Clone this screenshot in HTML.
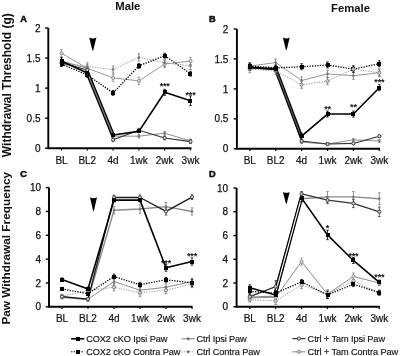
<!DOCTYPE html><html><head><meta charset="utf-8"><style>html,body{margin:0;padding:0;background:#fff;width:400px;height:356px;overflow:hidden;}svg{display:block;filter:blur(0.3px);}</style></head><body>
<svg width="400" height="356" viewBox="0 0 400 356" font-family='"Liberation Sans", sans-serif'>
<rect width="400" height="356" fill="#fff"/>
<text x="127.8" y="9.6" text-anchor="middle" font-size="11.3" font-weight="bold" fill="#111">Male</text>
<text x="350.5" y="12.3" text-anchor="middle" font-size="11.3" font-weight="bold" fill="#111">Female</text>
<text transform="translate(10.6 85.2) rotate(-90)" text-anchor="middle" font-size="12" font-weight="bold" fill="#111">Withdrawal Threshold (g)</text>
<text transform="translate(9.8 248.3) rotate(-90)" text-anchor="middle" font-size="11.8" font-weight="bold" fill="#111">Paw Withdrawal Frequency</text>
<path d="M48.3 28V148.2H191.5" fill="none" stroke="#000" stroke-width="1.9"/>
<path d="M45.1 148.2H48.3" stroke="#000" stroke-width="1.4"/>
<text x="40.5" y="151.8" text-anchor="end" font-size="10" fill="#111" stroke="#111" stroke-width="0.25">0</text>
<path d="M45.1 118.15H48.3" stroke="#000" stroke-width="1.4"/>
<text x="40.5" y="121.75" text-anchor="end" font-size="10" fill="#111" stroke="#111" stroke-width="0.25">0.5</text>
<path d="M45.1 88.1H48.3" stroke="#000" stroke-width="1.4"/>
<text x="40.5" y="91.7" text-anchor="end" font-size="10" fill="#111" stroke="#111" stroke-width="0.25">1</text>
<path d="M45.1 58.05H48.3" stroke="#000" stroke-width="1.4"/>
<text x="40.5" y="61.65" text-anchor="end" font-size="10" fill="#111" stroke="#111" stroke-width="0.25">1.5</text>
<path d="M45.1 28H48.3" stroke="#000" stroke-width="1.4"/>
<text x="40.5" y="31.6" text-anchor="end" font-size="10" fill="#111" stroke="#111" stroke-width="0.25">2</text>
<path d="M61.5 148.2v2.2" stroke="#000" stroke-width="1.2"/>
<text x="61.5" y="164.2" text-anchor="middle" font-size="10" fill="#111" stroke="#111" stroke-width="0.2">BL</text>
<path d="M87.3 148.2v2.2" stroke="#000" stroke-width="1.2"/>
<text x="87.3" y="164.2" text-anchor="middle" font-size="10" fill="#111" stroke="#111" stroke-width="0.2">BL2</text>
<path d="M113.1 148.2v2.2" stroke="#000" stroke-width="1.2"/>
<text x="113.1" y="164.2" text-anchor="middle" font-size="10" fill="#111" stroke="#111" stroke-width="0.2">4d</text>
<path d="M138.9 148.2v2.2" stroke="#000" stroke-width="1.2"/>
<text x="138.9" y="164.2" text-anchor="middle" font-size="10" fill="#111" stroke="#111" stroke-width="0.2">1wk</text>
<path d="M164.7 148.2v2.2" stroke="#000" stroke-width="1.2"/>
<text x="164.7" y="164.2" text-anchor="middle" font-size="10" fill="#111" stroke="#111" stroke-width="0.2">2wk</text>
<path d="M190.5 148.2v2.2" stroke="#000" stroke-width="1.2"/>
<text x="190.5" y="164.2" text-anchor="middle" font-size="10" fill="#111" stroke="#111" stroke-width="0.2">3wk</text>
<text x="20.2" y="21.5" font-size="9.2" font-weight="bold" fill="#111" stroke="#111" stroke-width="0.55">A</text>
<path d="M236.9 29V148.8H380" fill="none" stroke="#000" stroke-width="1.9"/>
<path d="M233.7 148.8H236.9" stroke="#000" stroke-width="1.4"/>
<text x="228.3" y="152.4" text-anchor="end" font-size="10" fill="#111" stroke="#111" stroke-width="0.25">0</text>
<path d="M233.7 118.85H236.9" stroke="#000" stroke-width="1.4"/>
<text x="228.3" y="122.45" text-anchor="end" font-size="10" fill="#111" stroke="#111" stroke-width="0.25">0.5</text>
<path d="M233.7 88.9H236.9" stroke="#000" stroke-width="1.4"/>
<text x="228.3" y="92.5" text-anchor="end" font-size="10" fill="#111" stroke="#111" stroke-width="0.25">1</text>
<path d="M233.7 58.95H236.9" stroke="#000" stroke-width="1.4"/>
<text x="228.3" y="62.55" text-anchor="end" font-size="10" fill="#111" stroke="#111" stroke-width="0.25">1.5</text>
<path d="M233.7 29H236.9" stroke="#000" stroke-width="1.4"/>
<text x="228.3" y="32.6" text-anchor="end" font-size="10" fill="#111" stroke="#111" stroke-width="0.25">2</text>
<path d="M249.8 148.8v2.2" stroke="#000" stroke-width="1.2"/>
<text x="249.8" y="164.4" text-anchor="middle" font-size="10" fill="#111" stroke="#111" stroke-width="0.2">BL</text>
<path d="M275.7 148.8v2.2" stroke="#000" stroke-width="1.2"/>
<text x="275.7" y="164.4" text-anchor="middle" font-size="10" fill="#111" stroke="#111" stroke-width="0.2">BL2</text>
<path d="M301.6 148.8v2.2" stroke="#000" stroke-width="1.2"/>
<text x="301.6" y="164.4" text-anchor="middle" font-size="10" fill="#111" stroke="#111" stroke-width="0.2">4d</text>
<path d="M327.5 148.8v2.2" stroke="#000" stroke-width="1.2"/>
<text x="327.5" y="164.4" text-anchor="middle" font-size="10" fill="#111" stroke="#111" stroke-width="0.2">1wk</text>
<path d="M353.4 148.8v2.2" stroke="#000" stroke-width="1.2"/>
<text x="353.4" y="164.4" text-anchor="middle" font-size="10" fill="#111" stroke="#111" stroke-width="0.2">2wk</text>
<path d="M379.3 148.8v2.2" stroke="#000" stroke-width="1.2"/>
<text x="379.3" y="164.4" text-anchor="middle" font-size="10" fill="#111" stroke="#111" stroke-width="0.2">3wk</text>
<text x="208.9" y="21.9" font-size="9.2" font-weight="bold" fill="#111" stroke="#111" stroke-width="0.55">B</text>
<path d="M49 187.6V306.8H192.5" fill="none" stroke="#000" stroke-width="1.9"/>
<path d="M45.8 306.8H49" stroke="#000" stroke-width="1.4"/>
<text x="41" y="310.4" text-anchor="end" font-size="10" fill="#111" stroke="#111" stroke-width="0.25">0</text>
<path d="M45.8 282.96H49" stroke="#000" stroke-width="1.4"/>
<text x="41" y="286.56" text-anchor="end" font-size="10" fill="#111" stroke="#111" stroke-width="0.25">2</text>
<path d="M45.8 259.12H49" stroke="#000" stroke-width="1.4"/>
<text x="41" y="262.72" text-anchor="end" font-size="10" fill="#111" stroke="#111" stroke-width="0.25">4</text>
<path d="M45.8 235.28H49" stroke="#000" stroke-width="1.4"/>
<text x="41" y="238.88" text-anchor="end" font-size="10" fill="#111" stroke="#111" stroke-width="0.25">6</text>
<path d="M45.8 211.44H49" stroke="#000" stroke-width="1.4"/>
<text x="41" y="215.04" text-anchor="end" font-size="10" fill="#111" stroke="#111" stroke-width="0.25">8</text>
<path d="M45.8 187.6H49" stroke="#000" stroke-width="1.4"/>
<text x="41" y="191.2" text-anchor="end" font-size="10" fill="#111" stroke="#111" stroke-width="0.25">10</text>
<path d="M62 306.8v2.2" stroke="#000" stroke-width="1.2"/>
<text x="62" y="321.8" text-anchor="middle" font-size="10" fill="#111" stroke="#111" stroke-width="0.2">BL</text>
<path d="M88 306.8v2.2" stroke="#000" stroke-width="1.2"/>
<text x="88" y="321.8" text-anchor="middle" font-size="10" fill="#111" stroke="#111" stroke-width="0.2">BL2</text>
<path d="M114 306.8v2.2" stroke="#000" stroke-width="1.2"/>
<text x="114" y="321.8" text-anchor="middle" font-size="10" fill="#111" stroke="#111" stroke-width="0.2">4d</text>
<path d="M140 306.8v2.2" stroke="#000" stroke-width="1.2"/>
<text x="140" y="321.8" text-anchor="middle" font-size="10" fill="#111" stroke="#111" stroke-width="0.2">1wk</text>
<path d="M166 306.8v2.2" stroke="#000" stroke-width="1.2"/>
<text x="166" y="321.8" text-anchor="middle" font-size="10" fill="#111" stroke="#111" stroke-width="0.2">2wk</text>
<path d="M192 306.8v2.2" stroke="#000" stroke-width="1.2"/>
<text x="192" y="321.8" text-anchor="middle" font-size="10" fill="#111" stroke="#111" stroke-width="0.2">3wk</text>
<text x="20.2" y="176.9" font-size="9.2" font-weight="bold" fill="#111" stroke="#111" stroke-width="0.55">C</text>
<path d="M236.6 188V306.8H380" fill="none" stroke="#000" stroke-width="1.9"/>
<path d="M233.4 306.8H236.6" stroke="#000" stroke-width="1.4"/>
<text x="228" y="310.4" text-anchor="end" font-size="10" fill="#111" stroke="#111" stroke-width="0.25">0</text>
<path d="M233.4 283.04H236.6" stroke="#000" stroke-width="1.4"/>
<text x="228" y="286.64" text-anchor="end" font-size="10" fill="#111" stroke="#111" stroke-width="0.25">2</text>
<path d="M233.4 259.28H236.6" stroke="#000" stroke-width="1.4"/>
<text x="228" y="262.88" text-anchor="end" font-size="10" fill="#111" stroke="#111" stroke-width="0.25">4</text>
<path d="M233.4 235.52H236.6" stroke="#000" stroke-width="1.4"/>
<text x="228" y="239.12" text-anchor="end" font-size="10" fill="#111" stroke="#111" stroke-width="0.25">6</text>
<path d="M233.4 211.76H236.6" stroke="#000" stroke-width="1.4"/>
<text x="228" y="215.36" text-anchor="end" font-size="10" fill="#111" stroke="#111" stroke-width="0.25">8</text>
<path d="M233.4 188H236.6" stroke="#000" stroke-width="1.4"/>
<text x="228" y="191.6" text-anchor="end" font-size="10" fill="#111" stroke="#111" stroke-width="0.25">10</text>
<path d="M249.8 306.8v2.2" stroke="#000" stroke-width="1.2"/>
<text x="249.8" y="321.8" text-anchor="middle" font-size="10" fill="#111" stroke="#111" stroke-width="0.2">BL</text>
<path d="M275.7 306.8v2.2" stroke="#000" stroke-width="1.2"/>
<text x="275.7" y="321.8" text-anchor="middle" font-size="10" fill="#111" stroke="#111" stroke-width="0.2">BL2</text>
<path d="M301.6 306.8v2.2" stroke="#000" stroke-width="1.2"/>
<text x="301.6" y="321.8" text-anchor="middle" font-size="10" fill="#111" stroke="#111" stroke-width="0.2">4d</text>
<path d="M327.5 306.8v2.2" stroke="#000" stroke-width="1.2"/>
<text x="327.5" y="321.8" text-anchor="middle" font-size="10" fill="#111" stroke="#111" stroke-width="0.2">1wk</text>
<path d="M353.4 306.8v2.2" stroke="#000" stroke-width="1.2"/>
<text x="353.4" y="321.8" text-anchor="middle" font-size="10" fill="#111" stroke="#111" stroke-width="0.2">2wk</text>
<path d="M379.3 306.8v2.2" stroke="#000" stroke-width="1.2"/>
<text x="379.3" y="321.8" text-anchor="middle" font-size="10" fill="#111" stroke="#111" stroke-width="0.2">3wk</text>
<text x="208.9" y="176.9" font-size="9.2" font-weight="bold" fill="#111" stroke="#111" stroke-width="0.55">D</text>
<polyline points="61.5,53.24 87.3,68.27 113.1,77.88 138.9,80.89 164.7,64.06 190.5,61.05" fill="none" stroke="#8c8c8c" stroke-width="0.9" stroke-linejoin="round"/>
<polyline points="61.5,62.86 87.3,66.46 113.1,69.47 138.9,57.45 164.7,62.86 190.5,65.86" fill="none" stroke="#9c9c9c" stroke-width="1.0" stroke-dasharray="1.3 1.3" stroke-linejoin="round"/>
<polyline points="61.5,61.05 87.3,68.27 113.1,136.18 138.9,136.18 164.7,133.17 190.5,140.99" fill="none" stroke="#8c8c8c" stroke-width="1.0" stroke-linejoin="round"/>
<polyline points="61.5,62.86 87.3,70.07 113.1,139.79 138.9,130.17 164.7,137.98 190.5,141.59" fill="none" stroke="#333333" stroke-width="1.1" stroke-linejoin="round"/>
<polyline points="61.5,64.06 87.3,74.88 113.1,92.91 138.9,65.86 164.7,55.65 190.5,73.68" fill="none" stroke="#000" stroke-width="1.3" stroke-dasharray="1.3 1.3" stroke-linejoin="round"/>
<polyline points="61.5,61.05 87.3,73.07 113.1,134.98 138.9,131.37 164.7,92.31 190.5,100.72" fill="none" stroke="#000" stroke-width="1.6" stroke-linejoin="round"/>
<path d="M87.3 72.47L113.1 135.58" stroke="#000" stroke-width="3.8" fill="none"/>
<path d="M87.3 72.47L113.1 135.58" stroke="#7a7a7a" stroke-width="1.3" fill="none"/>
<path d="M61.5 49.64V56.85M60.2 49.64h2.6M60.2 56.85h2.6" stroke="#8c8c8c" stroke-width="0.8" fill="none"/>
<path d="M87.3 64.66V71.87M86 64.66h2.6M86 71.87h2.6" stroke="#8c8c8c" stroke-width="0.8" fill="none"/>
<path d="M113.1 74.28V81.49M111.8 74.28h2.6M111.8 81.49h2.6" stroke="#8c8c8c" stroke-width="0.8" fill="none"/>
<path d="M138.9 77.28V84.49M137.6 77.28h2.6M137.6 84.49h2.6" stroke="#8c8c8c" stroke-width="0.8" fill="none"/>
<path d="M164.7 60.45V67.67M163.4 60.45h2.6M163.4 67.67h2.6" stroke="#8c8c8c" stroke-width="0.8" fill="none"/>
<path d="M190.5 57.45V64.66M189.2 57.45h2.6M189.2 64.66h2.6" stroke="#8c8c8c" stroke-width="0.8" fill="none"/>
<path d="M61.5 59.25V66.46M60.2 59.25h2.6M60.2 66.46h2.6" stroke="#777777" stroke-width="0.8" fill="none"/>
<path d="M87.3 62.86V70.07M86 62.86h2.6M86 70.07h2.6" stroke="#777777" stroke-width="0.8" fill="none"/>
<path d="M113.1 65.86V73.07M111.8 65.86h2.6M111.8 73.07h2.6" stroke="#777777" stroke-width="0.8" fill="none"/>
<path d="M138.9 53.84V61.05M137.6 53.84h2.6M137.6 61.05h2.6" stroke="#777777" stroke-width="0.8" fill="none"/>
<path d="M164.7 59.25V66.46M163.4 59.25h2.6M163.4 66.46h2.6" stroke="#777777" stroke-width="0.8" fill="none"/>
<path d="M190.5 62.26V69.47M189.2 62.26h2.6M189.2 69.47h2.6" stroke="#777777" stroke-width="0.8" fill="none"/>
<path d="M61.5 59.25V62.86M60.2 59.25h2.6M60.2 62.86h2.6" stroke="#777777" stroke-width="0.8" fill="none"/>
<path d="M87.3 66.46V70.07M86 66.46h2.6M86 70.07h2.6" stroke="#777777" stroke-width="0.8" fill="none"/>
<path d="M113.1 134.38V137.98M111.8 134.38h2.6M111.8 137.98h2.6" stroke="#777777" stroke-width="0.8" fill="none"/>
<path d="M138.9 134.38V137.98M137.6 134.38h2.6M137.6 137.98h2.6" stroke="#777777" stroke-width="0.8" fill="none"/>
<path d="M164.7 131.37V134.98M163.4 131.37h2.6M163.4 134.98h2.6" stroke="#777777" stroke-width="0.8" fill="none"/>
<path d="M190.5 139.19V142.79M189.2 139.19h2.6M189.2 142.79h2.6" stroke="#777777" stroke-width="0.8" fill="none"/>
<path d="M61.5 61.06V64.66M60.2 61.06h2.6M60.2 64.66h2.6" stroke="#333333" stroke-width="0.8" fill="none"/>
<path d="M87.3 68.27V71.87M86 68.27h2.6M86 71.87h2.6" stroke="#333333" stroke-width="0.8" fill="none"/>
<path d="M113.1 137.98V141.59M111.8 137.98h2.6M111.8 141.59h2.6" stroke="#333333" stroke-width="0.8" fill="none"/>
<path d="M138.9 128.37V131.97M137.6 128.37h2.6M137.6 131.97h2.6" stroke="#333333" stroke-width="0.8" fill="none"/>
<path d="M164.7 136.18V139.79M163.4 136.18h2.6M163.4 139.79h2.6" stroke="#333333" stroke-width="0.8" fill="none"/>
<path d="M190.5 139.79V143.39M189.2 139.79h2.6M189.2 143.39h2.6" stroke="#333333" stroke-width="0.8" fill="none"/>
<path d="M61.5 61.66V66.46M60.2 61.66h2.6M60.2 66.46h2.6" stroke="#000" stroke-width="0.8" fill="none"/>
<path d="M87.3 72.47V77.28M86 72.47h2.6M86 77.28h2.6" stroke="#000" stroke-width="0.8" fill="none"/>
<path d="M113.1 90.5V95.31M111.8 90.5h2.6M111.8 95.31h2.6" stroke="#000" stroke-width="0.8" fill="none"/>
<path d="M138.9 63.46V68.27M137.6 63.46h2.6M137.6 68.27h2.6" stroke="#000" stroke-width="0.8" fill="none"/>
<path d="M164.7 53.24V58.05M163.4 53.24h2.6M163.4 58.05h2.6" stroke="#000" stroke-width="0.8" fill="none"/>
<path d="M190.5 71.27V76.08M189.2 71.27h2.6M189.2 76.08h2.6" stroke="#000" stroke-width="0.8" fill="none"/>
<path d="M61.5 57.45V64.66M60.2 57.45h2.6M60.2 64.66h2.6" stroke="#000" stroke-width="0.8" fill="none"/>
<path d="M87.3 70.67V75.48M86 70.67h2.6M86 75.48h2.6" stroke="#000" stroke-width="0.8" fill="none"/>
<path d="M113.1 133.78V136.18M111.8 133.78h2.6M111.8 136.18h2.6" stroke="#000" stroke-width="0.8" fill="none"/>
<path d="M138.9 130.17V132.57M137.6 130.17h2.6M137.6 132.57h2.6" stroke="#000" stroke-width="0.8" fill="none"/>
<path d="M164.7 89.3V95.31M163.4 89.3h2.6M163.4 95.31h2.6" stroke="#000" stroke-width="0.8" fill="none"/>
<path d="M190.5 95.91V105.53M189.2 95.91h2.6M189.2 105.53h2.6" stroke="#000" stroke-width="0.8" fill="none"/>
<circle cx="61.5" cy="53.24" r="1.6" fill="#d8d8d8" stroke="#8c8c8c" stroke-width="0.9"/>
<circle cx="87.3" cy="68.27" r="1.6" fill="#d8d8d8" stroke="#8c8c8c" stroke-width="0.9"/>
<circle cx="113.1" cy="77.88" r="1.6" fill="#d8d8d8" stroke="#8c8c8c" stroke-width="0.9"/>
<circle cx="138.9" cy="80.89" r="1.6" fill="#d8d8d8" stroke="#8c8c8c" stroke-width="0.9"/>
<circle cx="164.7" cy="64.06" r="1.6" fill="#d8d8d8" stroke="#8c8c8c" stroke-width="0.9"/>
<circle cx="190.5" cy="61.05" r="1.6" fill="#d8d8d8" stroke="#8c8c8c" stroke-width="0.9"/>
<path d="M61.5 60.96L63 62.86L61.5 64.76L60 62.86Z" fill="#777777"/>
<path d="M87.3 64.56L88.8 66.46L87.3 68.36L85.8 66.46Z" fill="#777777"/>
<path d="M113.1 67.57L114.6 69.47L113.1 71.37L111.6 69.47Z" fill="#777777"/>
<path d="M138.9 55.55L140.4 57.45L138.9 59.35L137.4 57.45Z" fill="#777777"/>
<path d="M164.7 60.96L166.2 62.86L164.7 64.76L163.2 62.86Z" fill="#777777"/>
<path d="M190.5 63.96L192 65.86L190.5 67.76L189 65.86Z" fill="#777777"/>
<path d="M61.5 59.15L63 61.05L61.5 62.95L60 61.05Z" fill="#777777"/>
<path d="M87.3 66.37L88.8 68.27L87.3 70.17L85.8 68.27Z" fill="#777777"/>
<path d="M113.1 134.28L114.6 136.18L113.1 138.08L111.6 136.18Z" fill="#777777"/>
<path d="M138.9 134.28L140.4 136.18L138.9 138.08L137.4 136.18Z" fill="#777777"/>
<path d="M164.7 131.27L166.2 133.17L164.7 135.07L163.2 133.17Z" fill="#777777"/>
<path d="M190.5 139.09L192 140.99L190.5 142.89L189 140.99Z" fill="#777777"/>
<circle cx="61.5" cy="62.86" r="1.6" fill="#d8d8d8" stroke="#333333" stroke-width="0.9"/>
<circle cx="87.3" cy="70.07" r="1.6" fill="#d8d8d8" stroke="#333333" stroke-width="0.9"/>
<circle cx="113.1" cy="139.79" r="1.6" fill="#d8d8d8" stroke="#333333" stroke-width="0.9"/>
<circle cx="138.9" cy="130.17" r="1.6" fill="#d8d8d8" stroke="#333333" stroke-width="0.9"/>
<circle cx="164.7" cy="137.98" r="1.6" fill="#d8d8d8" stroke="#333333" stroke-width="0.9"/>
<circle cx="190.5" cy="141.59" r="1.6" fill="#d8d8d8" stroke="#333333" stroke-width="0.9"/>
<rect x="60" y="62" width="4" height="4" fill="#000" shape-rendering="crispEdges"/>
<rect x="85" y="73" width="4" height="4" fill="#000" shape-rendering="crispEdges"/>
<rect x="111" y="91" width="4" height="4" fill="#000" shape-rendering="crispEdges"/>
<rect x="137" y="64" width="4" height="4" fill="#000" shape-rendering="crispEdges"/>
<rect x="163" y="54" width="4" height="4" fill="#000" shape-rendering="crispEdges"/>
<rect x="188" y="72" width="4" height="4" fill="#000" shape-rendering="crispEdges"/>
<rect x="60" y="59" width="4" height="4" fill="#000" shape-rendering="crispEdges"/>
<rect x="85" y="71" width="4" height="4" fill="#000" shape-rendering="crispEdges"/>
<rect x="111" y="133" width="4" height="4" fill="#000" shape-rendering="crispEdges"/>
<rect x="137" y="129" width="4" height="4" fill="#000" shape-rendering="crispEdges"/>
<rect x="163" y="90" width="4" height="4" fill="#000" shape-rendering="crispEdges"/>
<rect x="188" y="99" width="4" height="4" fill="#000" shape-rendering="crispEdges"/>
<text x="164.7" y="88.9" text-anchor="middle" font-size="9" font-weight="bold" letter-spacing="-0.2" fill="#111">***</text>
<text x="190.5" y="97.6" text-anchor="middle" font-size="9" font-weight="bold" letter-spacing="-0.2" fill="#111">***</text>
<path d="M89.2 37.6Q92.8 39.4 96.4 37.6L93.2 50.6L92.4 50.6Z" fill="#000"/>
<polyline points="249.8,66.14 275.7,62.54 301.6,80.51 327.5,73.93 353.4,75.72 379.3,72.73" fill="none" stroke="#8c8c8c" stroke-width="0.9" stroke-linejoin="round"/>
<polyline points="249.8,69.13 275.7,70.93 301.6,84.71 327.5,81.11 353.4,69.13 379.3,72.73" fill="none" stroke="#9c9c9c" stroke-width="1.0" stroke-dasharray="1.3 1.3" stroke-linejoin="round"/>
<polyline points="249.8,67.34 275.7,67.34 301.6,142.21 327.5,144.01 353.4,139.81 379.3,141.01" fill="none" stroke="#8c8c8c" stroke-width="1.0" stroke-linejoin="round"/>
<polyline points="249.8,67.94 275.7,69.73 301.6,141.01 327.5,144.01 353.4,143.41 379.3,136.22" fill="none" stroke="#333333" stroke-width="1.1" stroke-linejoin="round"/>
<polyline points="249.8,66.14 275.7,67.94 301.6,66.74 327.5,64.94 353.4,69.13 379.3,63.74" fill="none" stroke="#000" stroke-width="1.3" stroke-dasharray="1.3 1.3" stroke-linejoin="round"/>
<polyline points="249.8,67.34 275.7,69.13 301.6,136.22 327.5,114.06 353.4,114.06 379.3,87.7" fill="none" stroke="#000" stroke-width="1.6" stroke-linejoin="round"/>
<path d="M275.7 69.13L301.6 137.42" stroke="#000" stroke-width="3.6" fill="none"/>
<path d="M275.7 69.13L301.6 137.42" stroke="#555555" stroke-width="1.3" fill="none"/>
<path d="M249.8 62.54V69.73M248.5 62.54h2.6M248.5 69.73h2.6" stroke="#777777" stroke-width="0.8" fill="none"/>
<path d="M275.7 58.95V66.14M274.4 58.95h2.6M274.4 66.14h2.6" stroke="#777777" stroke-width="0.8" fill="none"/>
<path d="M301.6 76.92V84.11M300.3 76.92h2.6M300.3 84.11h2.6" stroke="#777777" stroke-width="0.8" fill="none"/>
<path d="M327.5 70.33V77.52M326.2 70.33h2.6M326.2 77.52h2.6" stroke="#777777" stroke-width="0.8" fill="none"/>
<path d="M353.4 72.13V79.32M352.1 72.13h2.6M352.1 79.32h2.6" stroke="#777777" stroke-width="0.8" fill="none"/>
<path d="M379.3 69.13V76.32M378 69.13h2.6M378 76.32h2.6" stroke="#777777" stroke-width="0.8" fill="none"/>
<path d="M249.8 65.54V72.73M248.5 65.54h2.6M248.5 72.73h2.6" stroke="#777777" stroke-width="0.8" fill="none"/>
<path d="M275.7 67.34V74.52M274.4 67.34h2.6M274.4 74.52h2.6" stroke="#777777" stroke-width="0.8" fill="none"/>
<path d="M301.6 81.11V88.3M300.3 81.11h2.6M300.3 88.3h2.6" stroke="#777777" stroke-width="0.8" fill="none"/>
<path d="M327.5 77.52V84.71M326.2 77.52h2.6M326.2 84.71h2.6" stroke="#777777" stroke-width="0.8" fill="none"/>
<path d="M353.4 65.54V72.73M352.1 65.54h2.6M352.1 72.73h2.6" stroke="#777777" stroke-width="0.8" fill="none"/>
<path d="M379.3 69.13V76.32M378 69.13h2.6M378 76.32h2.6" stroke="#777777" stroke-width="0.8" fill="none"/>
<path d="M249.8 66.14V68.53M248.5 66.14h2.6M248.5 68.53h2.6" stroke="#777777" stroke-width="0.8" fill="none"/>
<path d="M275.7 66.14V68.53M274.4 66.14h2.6M274.4 68.53h2.6" stroke="#777777" stroke-width="0.8" fill="none"/>
<path d="M301.6 141.01V143.41M300.3 141.01h2.6M300.3 143.41h2.6" stroke="#777777" stroke-width="0.8" fill="none"/>
<path d="M327.5 142.81V145.21M326.2 142.81h2.6M326.2 145.21h2.6" stroke="#777777" stroke-width="0.8" fill="none"/>
<path d="M353.4 138.62V141.01M352.1 138.62h2.6M352.1 141.01h2.6" stroke="#777777" stroke-width="0.8" fill="none"/>
<path d="M379.3 139.81V142.21M378 139.81h2.6M378 142.21h2.6" stroke="#777777" stroke-width="0.8" fill="none"/>
<path d="M249.8 66.74V69.13M248.5 66.74h2.6M248.5 69.13h2.6" stroke="#333333" stroke-width="0.8" fill="none"/>
<path d="M275.7 68.53V70.93M274.4 68.53h2.6M274.4 70.93h2.6" stroke="#333333" stroke-width="0.8" fill="none"/>
<path d="M301.6 139.81V142.21M300.3 139.81h2.6M300.3 142.21h2.6" stroke="#333333" stroke-width="0.8" fill="none"/>
<path d="M327.5 142.81V145.21M326.2 142.81h2.6M326.2 145.21h2.6" stroke="#333333" stroke-width="0.8" fill="none"/>
<path d="M353.4 142.21V144.61M352.1 142.21h2.6M352.1 144.61h2.6" stroke="#333333" stroke-width="0.8" fill="none"/>
<path d="M379.3 135.02V137.42M378 135.02h2.6M378 137.42h2.6" stroke="#333333" stroke-width="0.8" fill="none"/>
<path d="M249.8 63.14V69.13M248.5 63.14h2.6M248.5 69.13h2.6" stroke="#000" stroke-width="0.8" fill="none"/>
<path d="M275.7 64.94V70.93M274.4 64.94h2.6M274.4 70.93h2.6" stroke="#000" stroke-width="0.8" fill="none"/>
<path d="M301.6 63.74V69.73M300.3 63.74h2.6M300.3 69.73h2.6" stroke="#000" stroke-width="0.8" fill="none"/>
<path d="M327.5 61.95V67.94M326.2 61.95h2.6M326.2 67.94h2.6" stroke="#000" stroke-width="0.8" fill="none"/>
<path d="M353.4 66.14V72.13M352.1 66.14h2.6M352.1 72.13h2.6" stroke="#000" stroke-width="0.8" fill="none"/>
<path d="M379.3 60.75V66.74M378 60.75h2.6M378 66.74h2.6" stroke="#000" stroke-width="0.8" fill="none"/>
<path d="M249.8 64.34V70.33M248.5 64.34h2.6M248.5 70.33h2.6" stroke="#000" stroke-width="0.8" fill="none"/>
<path d="M275.7 66.14V72.13M274.4 66.14h2.6M274.4 72.13h2.6" stroke="#000" stroke-width="0.8" fill="none"/>
<path d="M301.6 133.23V139.22M300.3 133.23h2.6M300.3 139.22h2.6" stroke="#000" stroke-width="0.8" fill="none"/>
<path d="M327.5 111.06V117.05M326.2 111.06h2.6M326.2 117.05h2.6" stroke="#000" stroke-width="0.8" fill="none"/>
<path d="M353.4 111.06V117.05M352.1 111.06h2.6M352.1 117.05h2.6" stroke="#000" stroke-width="0.8" fill="none"/>
<path d="M379.3 84.71V90.7M378 84.71h2.6M378 90.7h2.6" stroke="#000" stroke-width="0.8" fill="none"/>
<path d="M249.8 64.24L251.3 66.14L249.8 68.04L248.3 66.14Z" fill="#777777"/>
<path d="M275.7 60.64L277.2 62.54L275.7 64.44L274.2 62.54Z" fill="#777777"/>
<path d="M301.6 78.61L303.1 80.51L301.6 82.41L300.1 80.51Z" fill="#777777"/>
<path d="M327.5 72.03L329 73.93L327.5 75.83L326 73.93Z" fill="#777777"/>
<path d="M353.4 73.82L354.9 75.72L353.4 77.62L351.9 75.72Z" fill="#777777"/>
<path d="M379.3 70.83L380.8 72.73L379.3 74.63L377.8 72.73Z" fill="#777777"/>
<circle cx="249.8" cy="69.13" r="1.6" fill="#d8d8d8" stroke="#777777" stroke-width="0.9"/>
<circle cx="275.7" cy="70.93" r="1.6" fill="#d8d8d8" stroke="#777777" stroke-width="0.9"/>
<circle cx="301.6" cy="84.71" r="1.6" fill="#d8d8d8" stroke="#777777" stroke-width="0.9"/>
<circle cx="327.5" cy="81.11" r="1.6" fill="#d8d8d8" stroke="#777777" stroke-width="0.9"/>
<circle cx="353.4" cy="69.13" r="1.6" fill="#d8d8d8" stroke="#777777" stroke-width="0.9"/>
<circle cx="379.3" cy="72.73" r="1.6" fill="#d8d8d8" stroke="#777777" stroke-width="0.9"/>
<path d="M249.8 65.44L251.3 67.34L249.8 69.24L248.3 67.34Z" fill="#777777"/>
<path d="M275.7 65.44L277.2 67.34L275.7 69.24L274.2 67.34Z" fill="#777777"/>
<path d="M301.6 140.31L303.1 142.21L301.6 144.11L300.1 142.21Z" fill="#777777"/>
<path d="M327.5 142.11L329 144.01L327.5 145.91L326 144.01Z" fill="#777777"/>
<path d="M353.4 137.91L354.9 139.81L353.4 141.72L351.9 139.81Z" fill="#777777"/>
<path d="M379.3 139.11L380.8 141.01L379.3 142.91L377.8 141.01Z" fill="#777777"/>
<circle cx="249.8" cy="67.94" r="1.6" fill="#d8d8d8" stroke="#333333" stroke-width="0.9"/>
<circle cx="275.7" cy="69.73" r="1.6" fill="#d8d8d8" stroke="#333333" stroke-width="0.9"/>
<circle cx="301.6" cy="141.01" r="1.6" fill="#d8d8d8" stroke="#333333" stroke-width="0.9"/>
<circle cx="327.5" cy="144.01" r="1.6" fill="#d8d8d8" stroke="#333333" stroke-width="0.9"/>
<circle cx="353.4" cy="143.41" r="1.6" fill="#d8d8d8" stroke="#333333" stroke-width="0.9"/>
<circle cx="379.3" cy="136.22" r="1.6" fill="#d8d8d8" stroke="#333333" stroke-width="0.9"/>
<rect x="248" y="64" width="4" height="4" fill="#000" shape-rendering="crispEdges"/>
<rect x="274" y="66" width="4" height="4" fill="#000" shape-rendering="crispEdges"/>
<rect x="300" y="65" width="4" height="4" fill="#000" shape-rendering="crispEdges"/>
<rect x="326" y="63" width="4" height="4" fill="#000" shape-rendering="crispEdges"/>
<rect x="351" y="67" width="4" height="4" fill="#000" shape-rendering="crispEdges"/>
<rect x="377" y="62" width="4" height="4" fill="#000" shape-rendering="crispEdges"/>
<rect x="248" y="65" width="4" height="4" fill="#000" shape-rendering="crispEdges"/>
<rect x="274" y="67" width="4" height="4" fill="#000" shape-rendering="crispEdges"/>
<rect x="300" y="134" width="4" height="4" fill="#000" shape-rendering="crispEdges"/>
<rect x="326" y="112" width="4" height="4" fill="#000" shape-rendering="crispEdges"/>
<rect x="351" y="112" width="4" height="4" fill="#000" shape-rendering="crispEdges"/>
<rect x="377" y="86" width="4" height="4" fill="#000" shape-rendering="crispEdges"/>
<circle cx="353.4" cy="69.13" r="1.6" fill="#d8d8d8" stroke="#777" stroke-width="0.9"/>
<text x="327.5" y="111.6" text-anchor="middle" font-size="9" font-weight="bold" letter-spacing="-0.2" fill="#111">**</text>
<text x="353.4" y="109.6" text-anchor="middle" font-size="9" font-weight="bold" letter-spacing="-0.2" fill="#111">**</text>
<text x="379.3" y="85.1" text-anchor="middle" font-size="9" font-weight="bold" letter-spacing="-0.2" fill="#111">***</text>
<path d="M282.9 37.6Q286.3 39.4 289.7 37.6L286.7 50.1L285.9 50.1Z" fill="#000"/>
<polyline points="62,297.26 88,299.65 114,210.25 140,209.06 166,206.67 192,211.44" fill="none" stroke="#8c8c8c" stroke-width="1.4" stroke-linejoin="round"/>
<polyline points="62,296.19 88,290.47 114,287.25 140,292.73 166,290.23 192,284.03" fill="none" stroke="#9c9c9c" stroke-width="1.0" stroke-dasharray="1.3 1.3" stroke-linejoin="round"/>
<polyline points="62,296.67 88,299.29 114,281.53 140,290.23 166,287.25 192,281.53" fill="none" stroke="#8c8c8c" stroke-width="1.0" stroke-linejoin="round"/>
<polyline points="62,296.67 88,299.05 114,197.49 140,197.49 166,211.44 192,197.14" fill="none" stroke="#1a1a1a" stroke-width="1.3" stroke-linejoin="round"/>
<polyline points="62,288.92 88,293.69 114,276.52 140,284.75 166,279.74 192,282.96" fill="none" stroke="#000" stroke-width="1.3" stroke-dasharray="1.3 1.3" stroke-linejoin="round"/>
<polyline points="62,279.62 88,288.92 114,200.12 140,200.12 166,267.7 192,261.5" fill="none" stroke="#000" stroke-width="1.6" stroke-linejoin="round"/>
<path d="M62 295.48V299.05M60.7 295.48h2.6M60.7 299.05h2.6" stroke="#777777" stroke-width="0.8" fill="none"/>
<path d="M88 297.86V301.44M86.7 297.86h2.6M86.7 301.44h2.6" stroke="#777777" stroke-width="0.8" fill="none"/>
<path d="M114 206.67V213.82M112.7 206.67h2.6M112.7 213.82h2.6" stroke="#777777" stroke-width="0.8" fill="none"/>
<path d="M140 204.88V213.23M138.7 204.88h2.6M138.7 213.23h2.6" stroke="#777777" stroke-width="0.8" fill="none"/>
<path d="M166 202.5V210.84M164.7 202.5h2.6M164.7 210.84h2.6" stroke="#777777" stroke-width="0.8" fill="none"/>
<path d="M192 207.86V215.02M190.7 207.86h2.6M190.7 215.02h2.6" stroke="#777777" stroke-width="0.8" fill="none"/>
<path d="M62 294.4V297.98M60.7 294.4h2.6M60.7 297.98h2.6" stroke="#777777" stroke-width="0.8" fill="none"/>
<path d="M88 288.09V292.85M86.7 288.09h2.6M86.7 292.85h2.6" stroke="#777777" stroke-width="0.8" fill="none"/>
<path d="M114 283.68V290.83M112.7 283.68h2.6M112.7 290.83h2.6" stroke="#777777" stroke-width="0.8" fill="none"/>
<path d="M140 289.16V296.31M138.7 289.16h2.6M138.7 296.31h2.6" stroke="#777777" stroke-width="0.8" fill="none"/>
<path d="M166 286.66V293.81M164.7 286.66h2.6M164.7 293.81h2.6" stroke="#777777" stroke-width="0.8" fill="none"/>
<path d="M192 280.46V287.61M190.7 280.46h2.6M190.7 287.61h2.6" stroke="#777777" stroke-width="0.8" fill="none"/>
<path d="M62 294.88V298.46M60.7 294.88h2.6M60.7 298.46h2.6" stroke="#777777" stroke-width="0.8" fill="none"/>
<path d="M88 297.5V301.08M86.7 297.5h2.6M86.7 301.08h2.6" stroke="#777777" stroke-width="0.8" fill="none"/>
<path d="M114 277.95V285.11M112.7 277.95h2.6M112.7 285.11h2.6" stroke="#777777" stroke-width="0.8" fill="none"/>
<path d="M140 286.66V293.81M138.7 286.66h2.6M138.7 293.81h2.6" stroke="#777777" stroke-width="0.8" fill="none"/>
<path d="M166 283.68V290.83M164.7 283.68h2.6M164.7 290.83h2.6" stroke="#777777" stroke-width="0.8" fill="none"/>
<path d="M192 277.95V285.11M190.7 277.95h2.6M190.7 285.11h2.6" stroke="#777777" stroke-width="0.8" fill="none"/>
<path d="M62 295.48V297.86M60.7 295.48h2.6M60.7 297.86h2.6" stroke="#333333" stroke-width="0.8" fill="none"/>
<path d="M88 297.86V300.24M86.7 297.86h2.6M86.7 300.24h2.6" stroke="#333333" stroke-width="0.8" fill="none"/>
<path d="M114 195.11V199.88M112.7 195.11h2.6M112.7 199.88h2.6" stroke="#333333" stroke-width="0.8" fill="none"/>
<path d="M140 195.11V199.88M138.7 195.11h2.6M138.7 199.88h2.6" stroke="#333333" stroke-width="0.8" fill="none"/>
<path d="M166 207.86V215.02M164.7 207.86h2.6M164.7 215.02h2.6" stroke="#333333" stroke-width="0.8" fill="none"/>
<path d="M192 194.75V199.52M190.7 194.75h2.6M190.7 199.52h2.6" stroke="#333333" stroke-width="0.8" fill="none"/>
<path d="M62 287.73V290.11M60.7 287.73h2.6M60.7 290.11h2.6" stroke="#000" stroke-width="0.8" fill="none"/>
<path d="M88 291.9V295.48M86.7 291.9h2.6M86.7 295.48h2.6" stroke="#000" stroke-width="0.8" fill="none"/>
<path d="M114 274.14V278.91M112.7 274.14h2.6M112.7 278.91h2.6" stroke="#000" stroke-width="0.8" fill="none"/>
<path d="M140 282.36V287.13M138.7 282.36h2.6M138.7 287.13h2.6" stroke="#000" stroke-width="0.8" fill="none"/>
<path d="M166 277.36V282.13M164.7 277.36h2.6M164.7 282.13h2.6" stroke="#000" stroke-width="0.8" fill="none"/>
<path d="M192 279.38V286.54M190.7 279.38h2.6M190.7 286.54h2.6" stroke="#000" stroke-width="0.8" fill="none"/>
<path d="M62 277.83V281.41M60.7 277.83h2.6M60.7 281.41h2.6" stroke="#000" stroke-width="0.8" fill="none"/>
<path d="M88 287.13V290.71M86.7 287.13h2.6M86.7 290.71h2.6" stroke="#000" stroke-width="0.8" fill="none"/>
<path d="M114 198.33V201.9M112.7 198.33h2.6M112.7 201.9h2.6" stroke="#000" stroke-width="0.8" fill="none"/>
<path d="M140 198.33V201.9M138.7 198.33h2.6M138.7 201.9h2.6" stroke="#000" stroke-width="0.8" fill="none"/>
<path d="M166 264.13V271.28M164.7 264.13h2.6M164.7 271.28h2.6" stroke="#000" stroke-width="0.8" fill="none"/>
<path d="M192 257.93V265.08M190.7 257.93h2.6M190.7 265.08h2.6" stroke="#000" stroke-width="0.8" fill="none"/>
<path d="M62 295.36L63.5 297.26L62 299.16L60.5 297.26Z" fill="#777777"/>
<path d="M88 297.75L89.5 299.65L88 301.55L86.5 299.65Z" fill="#777777"/>
<path d="M114 208.35L115.5 210.25L114 212.15L112.5 210.25Z" fill="#777777"/>
<path d="M140 207.16L141.5 209.06L140 210.96L138.5 209.06Z" fill="#777777"/>
<path d="M166 204.77L167.5 206.67L166 208.57L164.5 206.67Z" fill="#777777"/>
<path d="M192 209.54L193.5 211.44L192 213.34L190.5 211.44Z" fill="#777777"/>
<circle cx="62" cy="296.19" r="1.6" fill="#d8d8d8" stroke="#777777" stroke-width="0.9"/>
<circle cx="88" cy="290.47" r="1.6" fill="#d8d8d8" stroke="#777777" stroke-width="0.9"/>
<circle cx="114" cy="287.25" r="1.6" fill="#d8d8d8" stroke="#777777" stroke-width="0.9"/>
<circle cx="140" cy="292.73" r="1.6" fill="#d8d8d8" stroke="#777777" stroke-width="0.9"/>
<circle cx="166" cy="290.23" r="1.6" fill="#d8d8d8" stroke="#777777" stroke-width="0.9"/>
<circle cx="192" cy="284.03" r="1.6" fill="#d8d8d8" stroke="#777777" stroke-width="0.9"/>
<path d="M62 294.77L63.5 296.67L62 298.57L60.5 296.67Z" fill="#777777"/>
<path d="M88 297.39L89.5 299.29L88 301.19L86.5 299.29Z" fill="#777777"/>
<path d="M114 279.63L115.5 281.53L114 283.43L112.5 281.53Z" fill="#777777"/>
<path d="M140 288.33L141.5 290.23L140 292.13L138.5 290.23Z" fill="#777777"/>
<path d="M166 285.35L167.5 287.25L166 289.15L164.5 287.25Z" fill="#777777"/>
<path d="M192 279.63L193.5 281.53L192 283.43L190.5 281.53Z" fill="#777777"/>
<circle cx="62" cy="296.67" r="1.6" fill="#d8d8d8" stroke="#333333" stroke-width="0.9"/>
<circle cx="88" cy="299.05" r="1.6" fill="#d8d8d8" stroke="#333333" stroke-width="0.9"/>
<circle cx="114" cy="197.49" r="1.6" fill="#d8d8d8" stroke="#333333" stroke-width="0.9"/>
<circle cx="140" cy="197.49" r="1.6" fill="#d8d8d8" stroke="#333333" stroke-width="0.9"/>
<circle cx="166" cy="211.44" r="1.6" fill="#d8d8d8" stroke="#333333" stroke-width="0.9"/>
<circle cx="192" cy="197.14" r="1.6" fill="#d8d8d8" stroke="#333333" stroke-width="0.9"/>
<rect x="60" y="287" width="4" height="4" fill="#000" shape-rendering="crispEdges"/>
<rect x="86" y="292" width="4" height="4" fill="#000" shape-rendering="crispEdges"/>
<rect x="112" y="275" width="4" height="4" fill="#000" shape-rendering="crispEdges"/>
<rect x="138" y="283" width="4" height="4" fill="#000" shape-rendering="crispEdges"/>
<rect x="164" y="278" width="4" height="4" fill="#000" shape-rendering="crispEdges"/>
<rect x="190" y="281" width="4" height="4" fill="#000" shape-rendering="crispEdges"/>
<rect x="60" y="278" width="4" height="4" fill="#000" shape-rendering="crispEdges"/>
<rect x="86" y="287" width="4" height="4" fill="#000" shape-rendering="crispEdges"/>
<rect x="112" y="198" width="4" height="4" fill="#000" shape-rendering="crispEdges"/>
<rect x="138" y="198" width="4" height="4" fill="#000" shape-rendering="crispEdges"/>
<rect x="164" y="266" width="4" height="4" fill="#000" shape-rendering="crispEdges"/>
<rect x="190" y="260" width="4" height="4" fill="#000" shape-rendering="crispEdges"/>
<text x="166" y="265.6" text-anchor="middle" font-size="9" font-weight="bold" letter-spacing="-0.2" fill="#111">***</text>
<text x="192" y="259.1" text-anchor="middle" font-size="9" font-weight="bold" letter-spacing="-0.2" fill="#111">***</text>
<path d="M90 197.3Q93.5 199.1 97 197.3L93.9 210.9L93.1 210.9Z" fill="#000"/>
<polyline points="249.8,297.3 275.7,296.11 301.6,198.69 327.5,196.91 353.4,196.91 379.3,198.69" fill="none" stroke="#8c8c8c" stroke-width="1.4" stroke-linejoin="round"/>
<polyline points="249.8,299.67 275.7,300.86 301.6,284.94 327.5,294.21 353.4,280.66 379.3,293.14" fill="none" stroke="#9c9c9c" stroke-width="1.0" stroke-dasharray="1.3 1.3" stroke-linejoin="round"/>
<polyline points="249.8,297.89 275.7,297.3 301.6,261.66 327.5,294.21 353.4,276.51 379.3,283.04" fill="none" stroke="#8c8c8c" stroke-width="1.0" stroke-linejoin="round"/>
<polyline points="249.8,296.7 275.7,286.6 301.6,193.94 327.5,200.12 353.4,203.44 379.3,211.76" fill="none" stroke="#333333" stroke-width="1.3" stroke-linejoin="round"/>
<polyline points="249.8,291.36 275.7,293.14 301.6,281.85 327.5,294.92 353.4,284.23 379.3,292.54" fill="none" stroke="#000" stroke-width="1.3" stroke-dasharray="1.3 1.3" stroke-linejoin="round"/>
<polyline points="249.8,287.79 275.7,294.92 301.6,198.1 327.5,234.93 353.4,260.47 379.3,282.45" fill="none" stroke="#000" stroke-width="1.6" stroke-linejoin="round"/>
<path d="M275.7 291.95L301.6 196.91" stroke="#000" stroke-width="3.6" fill="none"/>
<path d="M275.7 291.95L301.6 196.91" stroke="#ffffff" stroke-width="1.2" fill="none"/>
<path d="M249.8 294.92V299.67M248.5 294.92h2.6M248.5 299.67h2.6" stroke="#777777" stroke-width="0.8" fill="none"/>
<path d="M275.7 292.54V299.67M274.4 292.54h2.6M274.4 299.67h2.6" stroke="#777777" stroke-width="0.8" fill="none"/>
<path d="M301.6 195.13V202.26M300.3 195.13h2.6M300.3 202.26h2.6" stroke="#777777" stroke-width="0.8" fill="none"/>
<path d="M327.5 191.56V202.26M326.2 191.56h2.6M326.2 202.26h2.6" stroke="#777777" stroke-width="0.8" fill="none"/>
<path d="M353.4 191.56V202.26M352.1 191.56h2.6M352.1 202.26h2.6" stroke="#777777" stroke-width="0.8" fill="none"/>
<path d="M379.3 192.75V204.63M378 192.75h2.6M378 204.63h2.6" stroke="#777777" stroke-width="0.8" fill="none"/>
<path d="M249.8 297.3V302.05M248.5 297.3h2.6M248.5 302.05h2.6" stroke="#777777" stroke-width="0.8" fill="none"/>
<path d="M275.7 297.3V304.42M274.4 297.3h2.6M274.4 304.42h2.6" stroke="#777777" stroke-width="0.8" fill="none"/>
<path d="M301.6 281.38V288.5M300.3 281.38h2.6M300.3 288.5h2.6" stroke="#777777" stroke-width="0.8" fill="none"/>
<path d="M327.5 290.64V297.77M326.2 290.64h2.6M326.2 297.77h2.6" stroke="#777777" stroke-width="0.8" fill="none"/>
<path d="M353.4 277.1V284.23M352.1 277.1h2.6M352.1 284.23h2.6" stroke="#777777" stroke-width="0.8" fill="none"/>
<path d="M379.3 290.76V295.51M378 290.76h2.6M378 295.51h2.6" stroke="#777777" stroke-width="0.8" fill="none"/>
<path d="M249.8 295.51V300.27M248.5 295.51h2.6M248.5 300.27h2.6" stroke="#8c8c8c" stroke-width="0.8" fill="none"/>
<path d="M275.7 293.73V300.86M274.4 293.73h2.6M274.4 300.86h2.6" stroke="#8c8c8c" stroke-width="0.8" fill="none"/>
<path d="M301.6 258.09V265.22M300.3 258.09h2.6M300.3 265.22h2.6" stroke="#8c8c8c" stroke-width="0.8" fill="none"/>
<path d="M327.5 289.46V298.96M326.2 289.46h2.6M326.2 298.96h2.6" stroke="#8c8c8c" stroke-width="0.8" fill="none"/>
<path d="M353.4 272.94V280.07M352.1 272.94h2.6M352.1 280.07h2.6" stroke="#8c8c8c" stroke-width="0.8" fill="none"/>
<path d="M379.3 280.66V285.42M378 280.66h2.6M378 285.42h2.6" stroke="#8c8c8c" stroke-width="0.8" fill="none"/>
<path d="M249.8 294.33V299.08M248.5 294.33h2.6M248.5 299.08h2.6" stroke="#333333" stroke-width="0.8" fill="none"/>
<path d="M275.7 280.66V292.54M274.4 280.66h2.6M274.4 292.54h2.6" stroke="#333333" stroke-width="0.8" fill="none"/>
<path d="M301.6 191.56V196.32M300.3 191.56h2.6M300.3 196.32h2.6" stroke="#333333" stroke-width="0.8" fill="none"/>
<path d="M327.5 196.55V203.68M326.2 196.55h2.6M326.2 203.68h2.6" stroke="#333333" stroke-width="0.8" fill="none"/>
<path d="M353.4 199.29V207.6M352.1 199.29h2.6M352.1 207.6h2.6" stroke="#333333" stroke-width="0.8" fill="none"/>
<path d="M379.3 207.01V216.51M378 207.01h2.6M378 216.51h2.6" stroke="#333333" stroke-width="0.8" fill="none"/>
<path d="M249.8 288.98V293.73M248.5 288.98h2.6M248.5 293.73h2.6" stroke="#000" stroke-width="0.8" fill="none"/>
<path d="M275.7 290.76V295.51M274.4 290.76h2.6M274.4 295.51h2.6" stroke="#000" stroke-width="0.8" fill="none"/>
<path d="M301.6 279.48V284.23M300.3 279.48h2.6M300.3 284.23h2.6" stroke="#000" stroke-width="0.8" fill="none"/>
<path d="M327.5 291.36V298.48M326.2 291.36h2.6M326.2 298.48h2.6" stroke="#000" stroke-width="0.8" fill="none"/>
<path d="M353.4 281.85V286.6M352.1 281.85h2.6M352.1 286.6h2.6" stroke="#000" stroke-width="0.8" fill="none"/>
<path d="M379.3 290.17V294.92M378 290.17h2.6M378 294.92h2.6" stroke="#000" stroke-width="0.8" fill="none"/>
<path d="M249.8 284.82V290.76M248.5 284.82h2.6M248.5 290.76h2.6" stroke="#000" stroke-width="0.8" fill="none"/>
<path d="M275.7 292.54V297.3M274.4 292.54h2.6M274.4 297.3h2.6" stroke="#000" stroke-width="0.8" fill="none"/>
<path d="M301.6 194.53V201.66M300.3 194.53h2.6M300.3 201.66h2.6" stroke="#000" stroke-width="0.8" fill="none"/>
<path d="M327.5 230.17V239.68M326.2 230.17h2.6M326.2 239.68h2.6" stroke="#000" stroke-width="0.8" fill="none"/>
<path d="M353.4 257.5V263.44M352.1 257.5h2.6M352.1 263.44h2.6" stroke="#000" stroke-width="0.8" fill="none"/>
<path d="M379.3 280.07V284.82M378 280.07h2.6M378 284.82h2.6" stroke="#000" stroke-width="0.8" fill="none"/>
<path d="M249.8 295.4L251.3 297.3L249.8 299.2L248.3 297.3Z" fill="#777777"/>
<path d="M275.7 294.21L277.2 296.11L275.7 298.01L274.2 296.11Z" fill="#777777"/>
<path d="M301.6 196.79L303.1 198.69L301.6 200.59L300.1 198.69Z" fill="#777777"/>
<path d="M327.5 195.01L329 196.91L327.5 198.81L326 196.91Z" fill="#777777"/>
<path d="M353.4 195.01L354.9 196.91L353.4 198.81L351.9 196.91Z" fill="#777777"/>
<path d="M379.3 196.79L380.8 198.69L379.3 200.59L377.8 198.69Z" fill="#777777"/>
<circle cx="249.8" cy="299.67" r="1.6" fill="#d8d8d8" stroke="#777777" stroke-width="0.9"/>
<circle cx="275.7" cy="300.86" r="1.6" fill="#d8d8d8" stroke="#777777" stroke-width="0.9"/>
<circle cx="301.6" cy="284.94" r="1.6" fill="#d8d8d8" stroke="#777777" stroke-width="0.9"/>
<circle cx="327.5" cy="294.21" r="1.6" fill="#d8d8d8" stroke="#777777" stroke-width="0.9"/>
<circle cx="353.4" cy="280.66" r="1.6" fill="#d8d8d8" stroke="#777777" stroke-width="0.9"/>
<circle cx="379.3" cy="293.14" r="1.6" fill="#d8d8d8" stroke="#777777" stroke-width="0.9"/>
<circle cx="249.8" cy="297.89" r="1.6" fill="#d8d8d8" stroke="#8c8c8c" stroke-width="0.9"/>
<circle cx="275.7" cy="297.3" r="1.6" fill="#d8d8d8" stroke="#8c8c8c" stroke-width="0.9"/>
<circle cx="301.6" cy="261.66" r="1.6" fill="#d8d8d8" stroke="#8c8c8c" stroke-width="0.9"/>
<circle cx="327.5" cy="294.21" r="1.6" fill="#d8d8d8" stroke="#8c8c8c" stroke-width="0.9"/>
<circle cx="353.4" cy="276.51" r="1.6" fill="#d8d8d8" stroke="#8c8c8c" stroke-width="0.9"/>
<circle cx="379.3" cy="283.04" r="1.6" fill="#d8d8d8" stroke="#8c8c8c" stroke-width="0.9"/>
<circle cx="249.8" cy="296.7" r="1.6" fill="#d8d8d8" stroke="#333333" stroke-width="0.9"/>
<circle cx="275.7" cy="286.6" r="1.6" fill="#d8d8d8" stroke="#333333" stroke-width="0.9"/>
<circle cx="301.6" cy="193.94" r="1.6" fill="#d8d8d8" stroke="#333333" stroke-width="0.9"/>
<circle cx="327.5" cy="200.12" r="1.6" fill="#d8d8d8" stroke="#333333" stroke-width="0.9"/>
<circle cx="353.4" cy="203.44" r="1.6" fill="#d8d8d8" stroke="#333333" stroke-width="0.9"/>
<circle cx="379.3" cy="211.76" r="1.6" fill="#d8d8d8" stroke="#333333" stroke-width="0.9"/>
<rect x="248" y="289" width="4" height="4" fill="#000" shape-rendering="crispEdges"/>
<rect x="274" y="291" width="4" height="4" fill="#000" shape-rendering="crispEdges"/>
<rect x="300" y="280" width="4" height="4" fill="#000" shape-rendering="crispEdges"/>
<rect x="326" y="293" width="4" height="4" fill="#000" shape-rendering="crispEdges"/>
<rect x="351" y="282" width="4" height="4" fill="#000" shape-rendering="crispEdges"/>
<rect x="377" y="291" width="4" height="4" fill="#000" shape-rendering="crispEdges"/>
<rect x="248" y="286" width="4" height="4" fill="#000" shape-rendering="crispEdges"/>
<rect x="274" y="293" width="4" height="4" fill="#000" shape-rendering="crispEdges"/>
<rect x="300" y="196" width="4" height="4" fill="#000" shape-rendering="crispEdges"/>
<rect x="326" y="233" width="4" height="4" fill="#000" shape-rendering="crispEdges"/>
<rect x="351" y="258" width="4" height="4" fill="#000" shape-rendering="crispEdges"/>
<rect x="377" y="280" width="4" height="4" fill="#000" shape-rendering="crispEdges"/>
<text x="327.5" y="230.6" text-anchor="middle" font-size="9" font-weight="bold" letter-spacing="-0.2" fill="#111">*</text>
<text x="353.4" y="258.6" text-anchor="middle" font-size="9" font-weight="bold" letter-spacing="-0.2" fill="#111">***</text>
<text x="379.3" y="279.6" text-anchor="middle" font-size="9" font-weight="bold" letter-spacing="-0.2" fill="#111">***</text>
<path d="M282.9 191.9Q286.3 193.7 289.7 191.9L286.7 203.6L285.9 203.6Z" fill="#000"/>
<path d="M71.1 338.8H84.3" stroke="#000" stroke-width="1.6"/>
<rect x="76" y="337" width="4" height="4" fill="#000" shape-rendering="crispEdges"/>
<text x="86.2" y="342" font-size="9.2" letter-spacing="-0.1" fill="#111" stroke="#111" stroke-width="0.15">COX2 cKO Ipsi Paw</text>
<path d="M71.1 351.8H84.3" stroke="#000" stroke-width="1.0" stroke-dasharray="1.3 1.3"/>
<rect x="76" y="350" width="4" height="4" fill="#000" shape-rendering="crispEdges"/>
<text x="86.2" y="355" font-size="9.2" letter-spacing="-0.1" fill="#111" stroke="#111" stroke-width="0.15">COX2 cKO Contra Paw</text>
<path d="M181.6 338.8H194.8" stroke="#8c8c8c" stroke-width="1.2"/>
<path d="M188.2 336.9L189.7 338.8L188.2 340.7L186.7 338.8Z" fill="#666"/>
<text x="196.4" y="342" font-size="9.2" letter-spacing="-0.1" fill="#111" stroke="#111" stroke-width="0.15">Ctrl Ipsi Paw</text>
<path d="M181.6 351.8H194.8" stroke="#9c9c9c" stroke-width="1.0" stroke-dasharray="1.3 1.3"/>
<path d="M188.2 349.9L189.7 351.8L188.2 353.7L186.7 351.8Z" fill="#666"/>
<text x="196.4" y="355" font-size="9.2" letter-spacing="-0.1" fill="#111" stroke="#111" stroke-width="0.15">Ctrl Contra Paw</text>
<path d="M292.4 338.6H305.5" stroke="#333333" stroke-width="1.2"/>
<circle cx="298.95" cy="338.6" r="1.6" fill="#d8d8d8" stroke="#333333" stroke-width="0.9"/>
<text x="307.6" y="341.8" font-size="9.2" letter-spacing="-0.1" fill="#111" stroke="#111" stroke-width="0.15">Ctrl + Tam Ipsi Paw</text>
<path d="M292.4 351.8H305.5" stroke="#9c9c9c" stroke-width="1.2"/>
<circle cx="298.95" cy="351.8" r="1.6" fill="#d8d8d8" stroke="#777" stroke-width="0.9"/>
<text x="307.6" y="355" font-size="9.2" letter-spacing="-0.1" fill="#111" stroke="#111" stroke-width="0.15">Ctrl + Tam Contra Paw</text>
</svg></body></html>
